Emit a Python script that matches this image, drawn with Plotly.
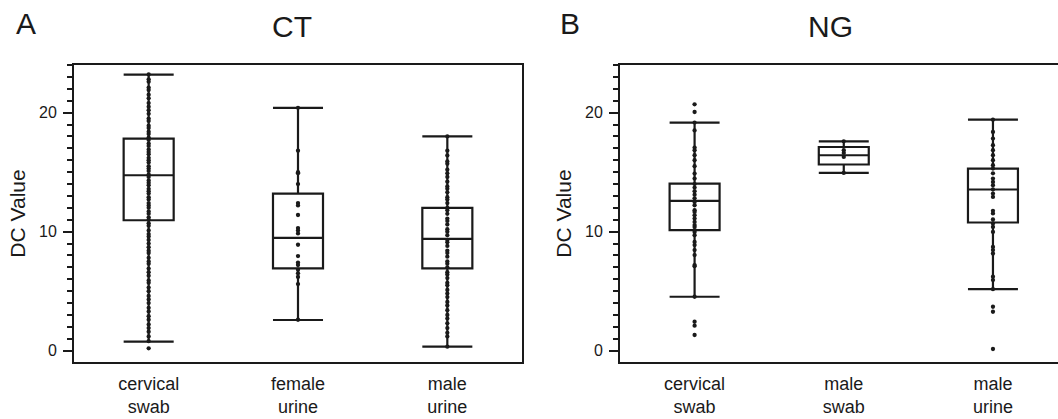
import plotly.graph_objects as go

# ---------------- data ----------------
ct_cats = ["cervical<br>swab", "female<br>urine", "male<br>urine"]
ct_q1 = [10.96, 6.91, 6.91]
ct_median = [14.74, 9.48, 9.40]
ct_q3 = [17.82, 13.20, 12.00]
ct_lower = [0.76, 2.58, 0.34]
ct_upper = [23.19, 20.39, 18.01]

ct_cervical_swab_pts = [23.2, 22.8, 22.6, 22.1, 21.9, 21.5, 21.2, 20.8, 20.5, 20.2, 19.9, 19.5,
                        19.3, 18.9, 18.7, 18.4, 18.2, 17.9, 17.7, 17.4, 17.2, 16.9, 16.7, 16.5,
                        16.2, 16.0, 15.8, 15.5, 15.3, 15.1, 14.8, 14.6, 14.3, 14.1, 13.9, 13.6,
                        13.4, 13.2, 12.9, 12.7, 12.4, 12.2, 12.0, 11.7, 11.5, 11.2, 11.0, 10.7,
                        10.5, 10.1, 9.8, 9.6, 9.3, 9.0, 8.7, 8.4, 8.2, 7.8, 7.5, 7.3, 6.9, 6.6,
                        6.3, 5.9, 5.7, 5.3, 5.0, 4.6, 4.3, 4.0, 3.6, 3.3, 2.9, 2.6, 2.2, 1.9,
                        1.6, 1.2, 0.8, 0.2]
ct_female_urine_pts = [20.4, 16.8, 15.0, 14.9, 14.0, 12.4, 12.2, 11.4, 10.3, 10.1, 9.85, 8.9,
                       7.95, 7.4, 7.2, 6.8, 6.5, 6.2, 5.6, 2.6]
ct_male_urine_pts = [18.0, 16.8, 16.4, 15.9, 15.7, 15.2, 14.9, 14.6, 14.2, 13.8, 13.6, 13.3,
                     12.9, 12.7, 12.4, 12.0, 11.8, 11.5, 11.1, 10.9, 10.6, 10.2, 10.0, 9.7,
                     9.3, 9.1, 8.8, 8.4, 8.2, 7.9, 7.5, 7.3, 7.0, 6.6, 6.4, 6.1, 5.7, 5.5,
                     5.1, 4.8, 4.5, 4.1, 3.8, 3.4, 3.0, 2.7, 2.3, 1.9, 1.5, 1.2, 0.34]

ng_cats = ["cervical<br>swab", "male<br>swab", "male<br>urine"]
ng_q1 = [10.13, 15.64, 10.77]
ng_median = [12.58, 16.42, 13.54]
ng_q3 = [14.04, 17.11, 15.30]
ng_lower = [4.53, 14.93, 5.17]
ng_upper = [19.16, 17.59, 19.41]

ng_cervical_swab_pts = [20.7, 20.05, 19.16, 18.5, 17.06, 16.84, 16.42, 16.0, 15.5, 14.88, 14.46,
                        14.0, 13.7, 13.4, 13.1, 12.8, 12.5, 12.22, 11.8, 11.66, 11.38, 11.1,
                        10.82, 10.55, 10.4, 10.13, 9.98, 9.7, 9.14, 8.87, 8.45, 8.03, 7.19,
                        7.1, 4.53, 2.43, 2.1, 1.32]
ng_male_swab_pts = [17.59, 16.84, 16.61, 16.28, 14.93]
ng_male_urine_pts = [19.41, 18.37, 17.82, 17.26, 16.84, 16.42, 16.0, 15.58, 15.3, 14.9, 14.46,
                     14.18, 13.9, 13.54, 13.2, 12.92, 11.75, 11.53, 11.02, 10.69, 10.4, 9.98,
                     8.72, 8.45, 8.17, 6.21, 5.93, 5.17, 3.69, 3.27, 0.14]

panel_titles = ["CT", "NG"]
panel_letters = ["A", "B"]
y_title = "DC Value"

# ---------------- style ----------------
INK = "#1a1a1a"
FONT = "Liberation Sans, Arial, Helvetica, sans-serif"
W, H = 1058, 419

fig = go.Figure()


def add_panel(cats, q1, med, q3, lo, hi, pts, xa, ya):
    fig.add_trace(go.Box(
        x=cats, q1=q1, median=med, q3=q3, lowerfence=lo, upperfence=hi,
        width=0.335, whiskerwidth=1, boxpoints=False,
        line=dict(color=INK, width=2.2), fillcolor="rgba(0,0,0,0)",
        xaxis=xa, yaxis=ya, showlegend=False, hoverinfo="skip"))
    xs, ys = [], []
    for c, vals in zip(cats, pts):
        xs += [c] * len(vals)
        ys += vals
    fig.add_trace(go.Scatter(
        x=xs, y=ys, mode="markers",
        marker=dict(color=INK, size=4.3),
        xaxis=xa, yaxis=ya, showlegend=False, hoverinfo="skip"))


add_panel(ct_cats, ct_q1, ct_median, ct_q3, ct_lower, ct_upper,
          [ct_cervical_swab_pts, ct_female_urine_pts, ct_male_urine_pts], "x", "y")
add_panel(ng_cats, ng_q1, ng_median, ng_q3, ng_lower, ng_upper,
          [ng_cervical_swab_pts, ng_male_swab_pts, ng_male_urine_pts], "x2", "y2")

ydom = [57 / H, 354 / H]


def yaxis(mirror):
    return dict(
        domain=ydom, range=[-0.95, 24.0], tick0=0, dtick=10,
        ticks="outside", ticklen=9, tickwidth=2, tickcolor=INK,
        minor=dict(dtick=1, ticks="outside", ticklen=5, tickwidth=2, tickcolor=INK),
        showline=True, linewidth=2, linecolor=INK, mirror=mirror,
        showgrid=False, zeroline=False,
        tickfont=dict(size=16, color=INK, family=FONT),
        ticklabelstandoff=3,
        title=dict(text=y_title, font=dict(size=21, color=INK, family=FONT), standoff=8),
        automargin=False)


def xaxis(dom, rng, cats, anchor):
    return dict(
        domain=dom, range=rng, type="category", categoryorder="array", categoryarray=cats,
        showline=True, linewidth=2, linecolor=INK, mirror=True,
        ticks="", showgrid=False, zeroline=False, anchor=anchor,
        tickfont=dict(size=18, color=INK, family=FONT),
        ticklabelstandoff=4,
        automargin=False)


fig.update_layout(
    width=W, height=H,
    margin=dict(l=0, r=0, t=0, b=0),
    paper_bgcolor="white", plot_bgcolor="white",
    font=dict(family=FONT, color=INK),
    xaxis=xaxis([74 / W, 522 / W], [-0.5, 2.5], ct_cats, "y"),
    yaxis=yaxis(True) | dict(anchor="x"),
    xaxis2=xaxis([620 / W, 1.0], [-0.5, 2.436], ng_cats, "y2"),
    yaxis2=yaxis(False) | dict(anchor="x2"),
)

# panel letters and titles
for letter, xl in zip(panel_letters, [14, 558]):
    fig.add_annotation(text=letter, x=xl / W, y=1 - 23 / H, xref="paper", yref="paper",
                       xanchor="left", yanchor="middle", showarrow=False,
                       font=dict(size=30, color=INK, family=FONT))
for title, xc in zip(panel_titles, [292, 830]):
    fig.add_annotation(text=title, x=xc / W, y=1 - 26.5 / H, xref="paper", yref="paper",
                       xanchor="center", yanchor="middle", showarrow=False,
                       font=dict(size=30, color=INK, family=FONT))

fig.write_html("out.html", config={"displayModeBar": False},
               post_script="document.body.style.margin='0';")
